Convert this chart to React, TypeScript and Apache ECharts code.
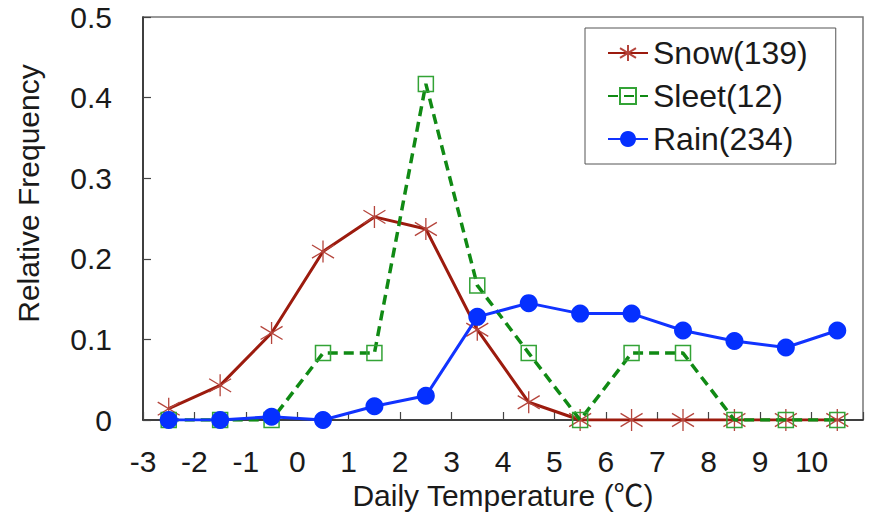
import React, { useEffect, useRef } from "react";
import * as echarts from "echarts";

const temps = [-2.5, -1.5, -0.5, 0.5, 1.5, 2.5, 3.5, 4.5, 5.5, 6.5, 7.5, 8.5, 9.5, 10.5];
const snowValues = [0.014, 0.043, 0.108, 0.209, 0.252, 0.237, 0.112, 0.022, 0, 0, 0, 0, 0, 0];
const sleetValues = [0, 0, 0, 0.083, 0.083, 0.417, 0.167, 0.083, 0, 0.083, 0.083, 0, 0, 0];
const rainValues = [0, 0, 0.004, 0, 0.017, 0.03, 0.128, 0.145, 0.132, 0.132, 0.111, 0.098, 0.09, 0.111];
const seriesNames = ["Snow(139)", "Sleet(12)", "Rain(234)"];
const xTitle = "Daily Temperature (℃)";
const yTitle = "Relative Frequency";

const FONT = "'Liberation Sans', 'Noto Sans CJK JP', sans-serif";

export default function App() {
  const ref = useRef<HTMLDivElement>(null);
  useEffect(() => {
    if (!ref.current) return;
    const chart = echarts.init(ref.current, undefined, { renderer: "svg" });
    const pair = (vals: number[]) => temps.map((t, i) => [t, vals[i]]);
    chart.setOption({
      animation: false,
      backgroundColor: "#fff",
      textStyle: { fontFamily: FONT, color: "#1a1a1a" },
      grid: {
        left: 143,
        right: 9,
        top: 17,
        bottom: 92,
        show: true,
        borderColor: "#777",
        borderWidth: 1.5,
        backgroundColor: "transparent",
        outerBoundsMode: "none",
        containLabel: false,
      },
      legend: {
        orient: "vertical",
        left: 585,
        top: 28,
        padding: [9, 28, 9, 22],
        itemGap: 11,
        itemWidth: 40,
        itemHeight: 20,
        borderColor: "#555",
        borderWidth: 1,
        backgroundColor: "#fff",
        textStyle: { fontSize: 32, lineHeight: 30, fontFamily: FONT, color: "#1a1a1a" },
        data: seriesNames,
      },
      xAxis: {
        type: "value",
        min: -3,
        max: 11,
        interval: 1,
        name: xTitle,
        nameLocation: "middle",
        nameGap: 59,
        nameTextStyle: { fontSize: 30, lineHeight: 30, color: "#1a1a1a" },
        axisLine: { show: true, onZero: false, lineStyle: { color: "#222", width: 1.5 } },
        axisTick: { show: true, inside: true, length: 8, lineStyle: { color: "#444", width: 1.2 } },
        splitLine: { show: false },
        axisLabel: {
          fontSize: 30,
          lineHeight: 30,
          color: "#1a1a1a",
          margin: 26,
          formatter: (v: number) => (v === 11 ? "" : String(v)),
        },
      },
      yAxis: {
        type: "value",
        min: 0,
        max: 0.5,
        interval: 0.1,
        name: yTitle,
        nameLocation: "middle",
        nameGap: 100,
        nameTextStyle: { fontSize: 30, color: "#1a1a1a", padding: [0, 0, 0, 50] },
        axisLine: { show: true, onZero: false, lineStyle: { color: "#222", width: 1.5 } },
        axisTick: { show: true, inside: true, length: 8, lineStyle: { color: "#444", width: 1.2 } },
        splitLine: { show: false },
        axisLabel: {
          fontSize: 30,
          lineHeight: 30,
          color: "#1a1a1a",
          margin: 31,
          formatter: (v: number) => (v === 0 ? "0" : v.toFixed(1)),
        },
      },
      series: [
        {
          name: seriesNames[0],
          type: "line",
          data: pair(snowValues),
          symbol: "path://M10 0L10 20M2 4L18 16M18 4L2 16",
          symbolSize: [22, 22],
          lineStyle: { color: "#9c1b0e", width: 3 },
          itemStyle: { color: "transparent", borderColor: "#b5453c", borderWidth: 1.3 },
          z: 2,
        },
        {
          name: seriesNames[1],
          type: "line",
          data: pair(sleetValues),
          symbol: "path://M0 0L10 0L10 10L0 10Z",
          symbolSize: 15,
          lineStyle: { color: "#108a14", width: 3.5, type: [10, 6] },
          itemStyle: { color: "transparent", borderColor: "#33a336", borderWidth: 1.5 },
          z: 3,
        },
        {
          name: seriesNames[2],
          type: "line",
          data: pair(rainValues),
          symbol: "circle",
          symbolSize: 18,
          lineStyle: { color: "#1133ff", width: 3 },
          itemStyle: { color: "#0530ff" },
          z: 4,
        },
      ],
    });
    return () => chart.dispose();
  }, []);
  return <div ref={ref} style={{ width: 872, height: 512, position: "absolute", left: 0, top: 0 }} />;
}
